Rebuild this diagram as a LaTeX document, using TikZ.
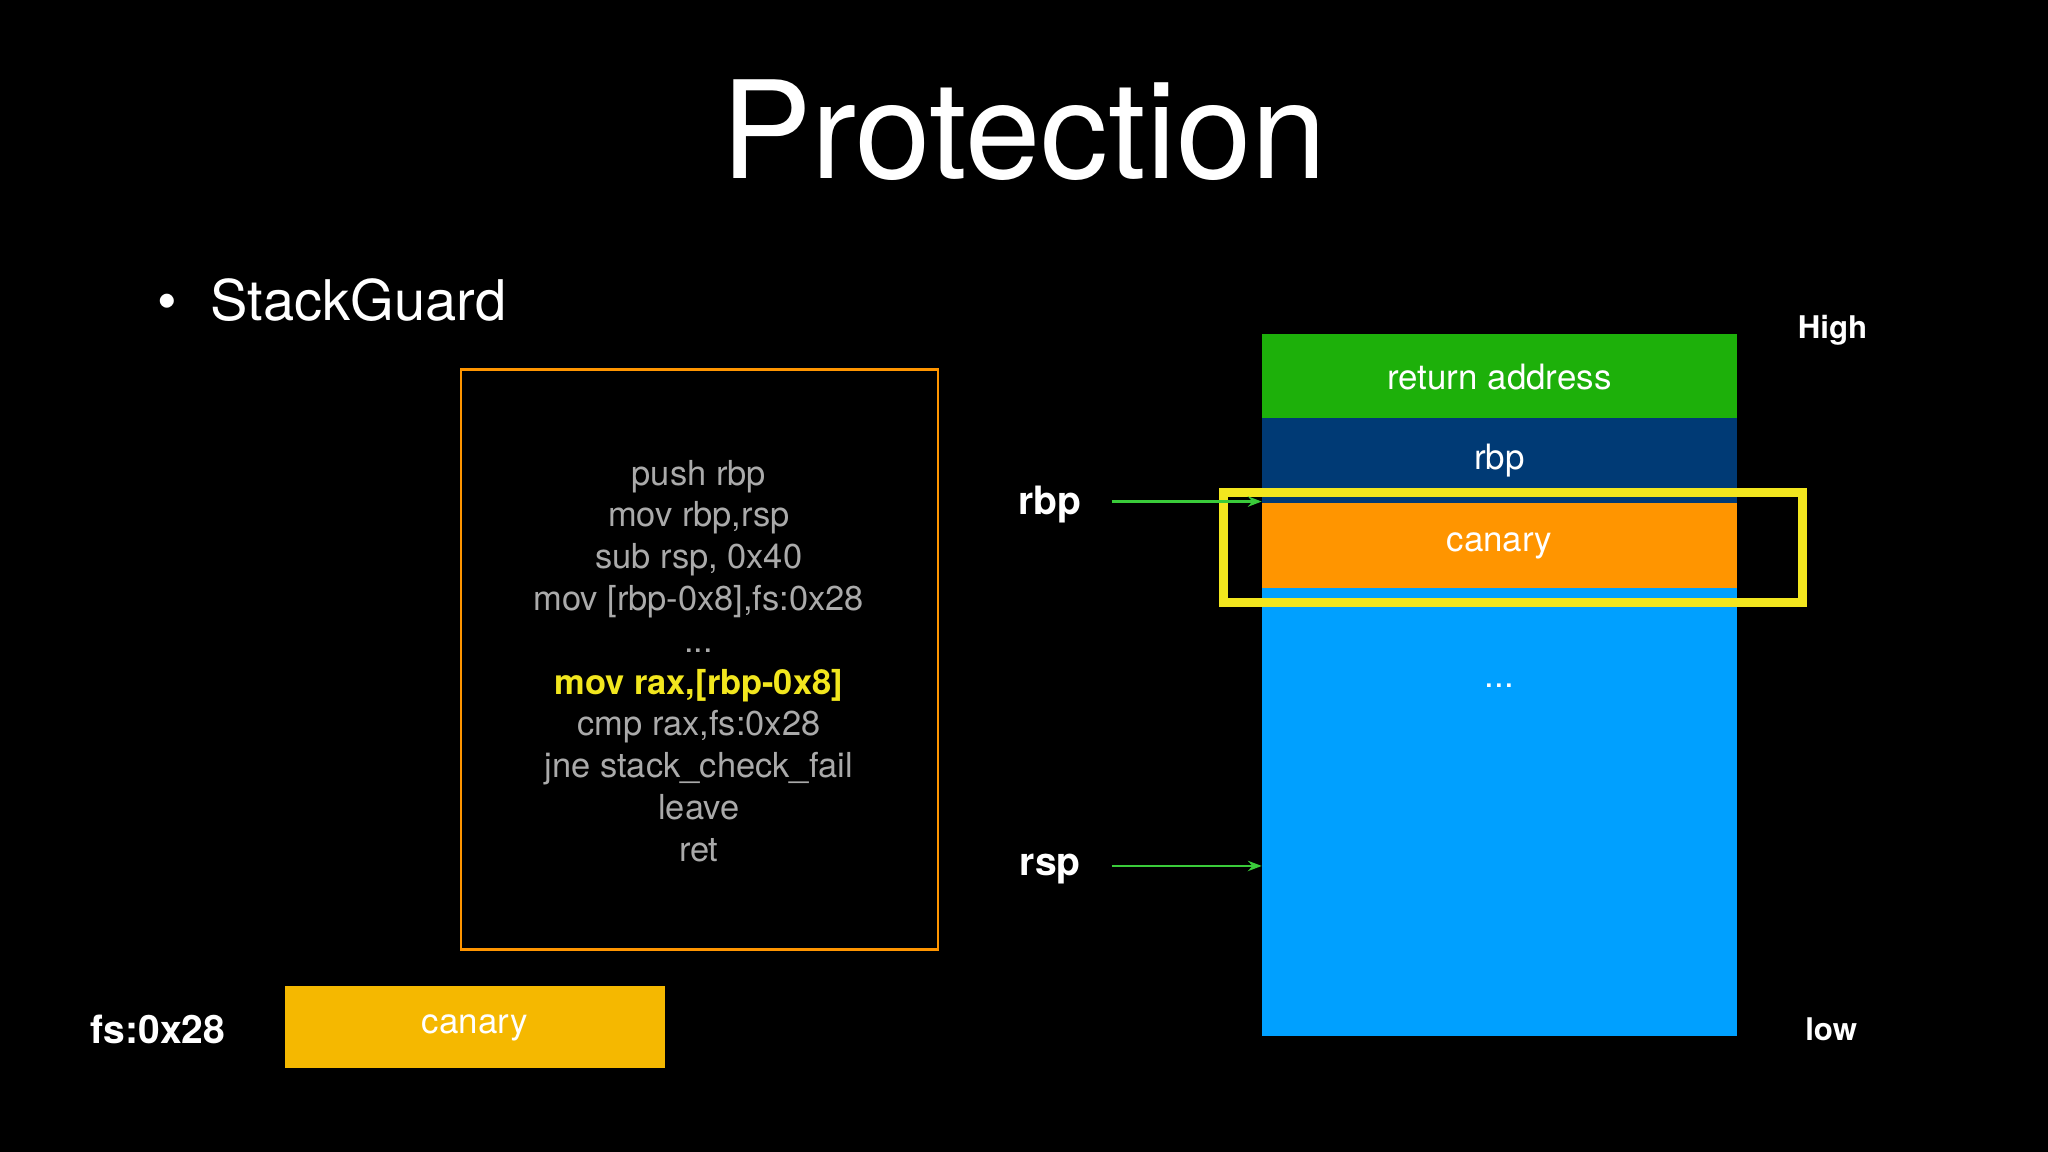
\documentclass[tikz,border=0pt]{standalone}
\usepackage{fontspec}
\setmainfont{TeX Gyre Heros}
\usetikzlibrary{arrows.meta}
\definecolor{cgreen}{HTML}{1DB00A}
\definecolor{cnavy}{HTML}{003A75}
\definecolor{corange}{HTML}{FF9500}
\definecolor{cblue}{HTML}{00A0FF}
\definecolor{cgold}{HTML}{F5B800}
\definecolor{cgray}{HTML}{AAAAAA}
\definecolor{cyel}{HTML}{F2E61E}
\definecolor{carrow}{HTML}{3ACB3A}
\begin{document}
\begin{tikzpicture}[x=0.01cm,y=-0.01cm,
  slot/.style={draw=none,minimum width=364\pgflinewidth,inner sep=0},
  lbl/.style={text=white,font=\fontsize{7.6}{9}\selectfont},
  reg/.style={text=white,font=\fontsize{8.5}{10}\selectfont\bfseries},
  conn/.style={draw=carrow,line width=0.5pt,-{Stealth[length=3pt]}}]
\fill[black] (0,0) rectangle (1568,882);
\useasboundingbox (0,0) rectangle (1568,882);
\node[text=white,font=\fontsize{29.5}{32}\selectfont] (title) at (784,100) {Protection};
\node[text=white,font=\fontsize{12.2}{14}\selectfont,anchor=west] (sg) at (108,230) {\textbullet\hspace{0.6em}StackGuard};
\node[draw=corange,line width=0.6pt,minimum width=3.65cm,minimum height=4.44cm,inner sep=0] (code) at (535.5,505) {};
\node[text=cgray,align=center,font=\fontsize{7.5}{9.1}\selectfont] (codetext) at (535,506) {push rbp\\mov rbp,rsp\\sub rsp, 0x40\\mov [rbp-0x8],fs:0x28\\...\\{\color{cyel}\bfseries mov rax,[rbp-0x8]}\\cmp rax,fs:0x28\\jne stack\_check\_fail\\leave\\ret};
\fill[cgreen] (966,256) rectangle (1330,320);
\fill[cnavy] (966,320) rectangle (1330,385);
\fill[corange] (966,385) rectangle (1330,450);
\fill[cblue] (966,450) rectangle (1330,793);
\node[lbl] (ret) at (1148,289) {return address};
\node[lbl] (rbpslot) at (1148,353) {rbp};
\node[lbl] (canslot) at (1148,418) {canary};
\node[lbl] (dots) at (1148,525) {...};
\coordinate (rbpt) at (966,384);
\coordinate (rspt) at (966,663);
\draw[cyel,line width=2pt] (937,377) rectangle (1380,461);
\node[reg] (rbp) at (804,386) {rbp};
\node[reg] (rsp) at (804,665) {rsp};
\draw[conn] (851,384) -- (rbpt);
\draw[conn] (851,663) -- (rspt);
\node[text=white,font=\fontsize{6.8}{8}\selectfont\bfseries] (high) at (1403,253) {High};
\node[text=white,font=\fontsize{6.8}{8}\selectfont\bfseries] (low) at (1402,788) {low};
\fill[cgold] (218,755) rectangle (509,818);
\node[lbl] (fscan) at (363.5,787) {canary};
\node[reg] (fs) at (121,788) {fs:0x28};
\end{tikzpicture}
\end{document}
